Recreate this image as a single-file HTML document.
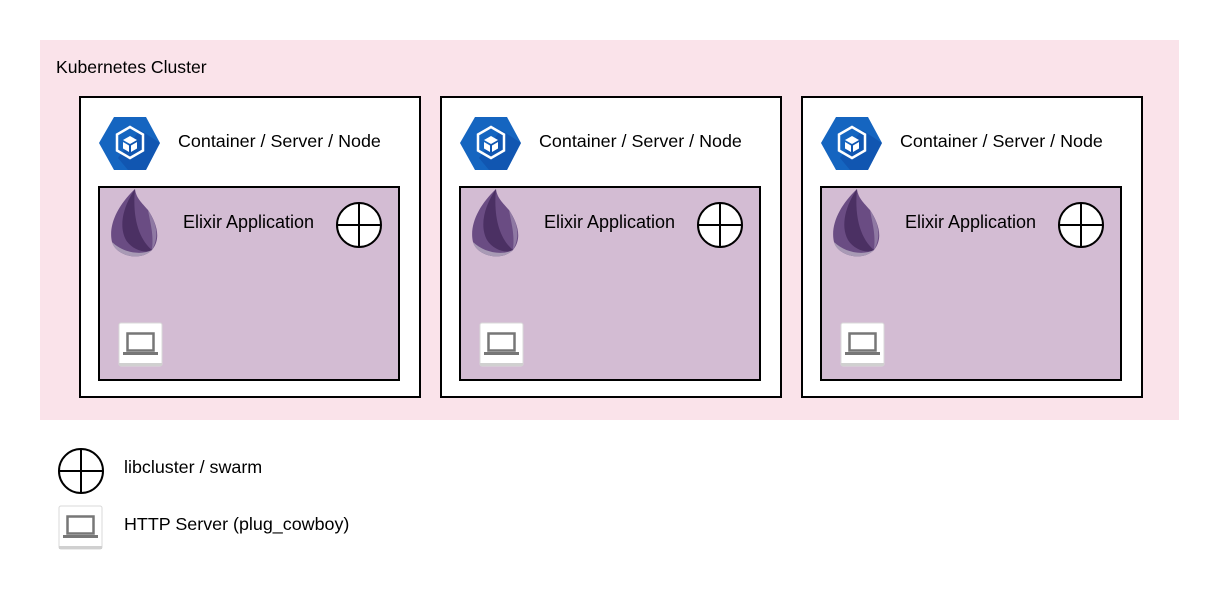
<!DOCTYPE html>
<html><head><meta charset="utf-8"><style>
html,body{margin:0;padding:0;background:#fff;}
svg{display:block;}
text{font-family:"Liberation Sans",sans-serif;fill:#000;}
</style></head><body>
<svg width="1220" height="597" viewBox="0 0 1220 597" xmlns="http://www.w3.org/2000/svg">
<defs>
<g id="hex">
  <polygon points="114,117 146,117 160,143 146,170 114,170 99,143" fill="#1565c0"/>
  <polygon points="140,130 160,143 146,170 128,170 118,158" fill="#0d47a1" opacity="0.5"/>
  <polygon points="130,127 143,134.5 143,150.5 130,158 117,150.5 117,134.5" fill="none" stroke="#fff" stroke-width="2.5"/>
  <polygon points="130,136 137,140 130,144 123,140" fill="#fff"/>
  <polygon points="123,142 129,145.5 129,152 123,148.5" fill="#fff"/>
  <polygon points="137,142 131,145.5 131,152 137,148.5" fill="#fff"/>
</g>
<g id="drop">
  <path d="M135,189 C118,205 108,225 112,242 C116,256 140,262 152,250 C162,238 156,222 148,210 C142,203 136,198 135,189 Z" fill="#6a4c83"/>
  <path d="M135,189 C124,205 118,225 126,240 C132,250 146,254 152,250 C140,240 132,220 135,189 Z" fill="#3f2555" opacity="0.7"/>
  <path d="M112,242 C116,256 140,262 152,250 C140,256 122,252 112,242 Z" fill="#a89ab5"/>
  <path d="M148,210 C156,222 160,236 152,250 C154,234 150,222 148,210 Z" fill="#8f79a3"/>
</g>
<g id="globe">
  <circle cx="359" cy="225" r="22" fill="#fff" stroke="#000" stroke-width="2"/>
  <line x1="337" y1="225" x2="381" y2="225" stroke="#000" stroke-width="2"/>
  <line x1="359" y1="203" x2="359" y2="247" stroke="#000" stroke-width="2"/>
</g>
<g id="laptop">
  <rect x="119" y="323" width="43" height="43" rx="2" fill="#fff" stroke="#d8d8d8" stroke-width="1"/>
  <rect x="119" y="363" width="43" height="3" fill="#d0d0d0"/>
  <rect x="127.5" y="333.5" width="26" height="17" fill="none" stroke="#777" stroke-width="2.5"/>
  <rect x="123" y="352" width="35" height="3" fill="#777"/>
</g>
<g id="node">
  <rect x="80" y="97" width="340" height="300" fill="#fff" stroke="#000" stroke-width="2"/>
  <use href="#hex"/>
  <text x="178" y="147" font-size="17.9">Container / Server / Node</text>
  <rect x="99" y="187" width="300" height="193" fill="#d3bcd3" stroke="#000" stroke-width="2"/>
  <use href="#drop"/>
  <text x="183" y="228" font-size="18">Elixir Application</text>
  <use href="#globe"/>
  <use href="#laptop"/>
</g>
</defs>
<rect x="40" y="40" width="1139" height="380" fill="#fae3ea"/>
<text x="56" y="73" font-size="17.6">Kubernetes Cluster</text>
<use href="#node"/>
<use href="#node" transform="translate(361,0)"/>
<use href="#node" transform="translate(722,0)"/>
<use href="#globe" transform="translate(-278,246)"/>
<text x="124" y="473" font-size="17.9">libcluster / swarm</text>
<use href="#laptop" transform="translate(-60,183)"/>
<text x="124" y="530" font-size="17.9">HTTP Server (plug_cowboy)</text>
</svg>
</body></html>
